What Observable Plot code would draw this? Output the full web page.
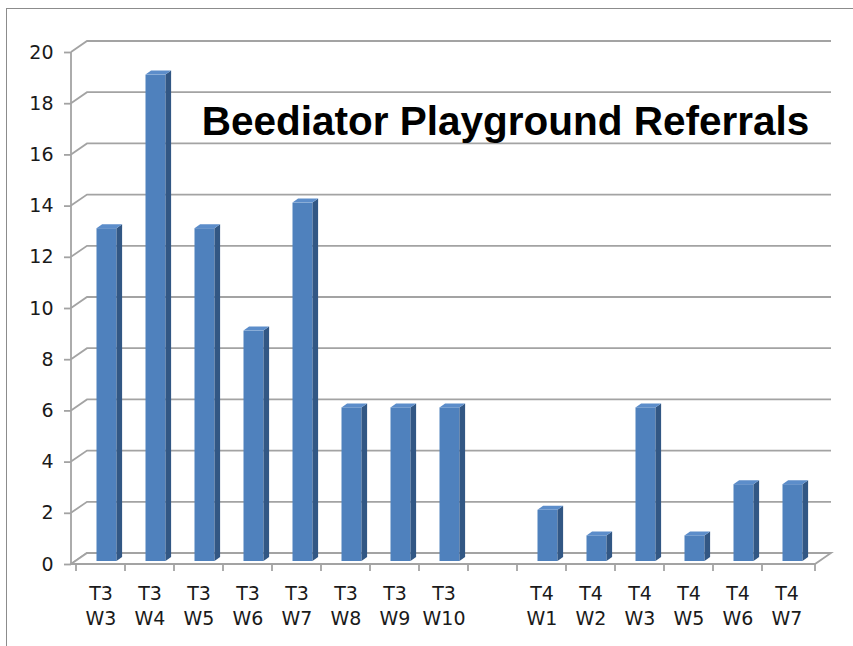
<!DOCTYPE html>
<html>
<head>
<meta charset="utf-8">
<script src="https://cdn.jsdelivr.net/npm/d3@7"></script>
<script src="https://cdn.jsdelivr.net/npm/@observablehq/plot@0.6"></script>
<style>
  body { margin: 0; background: #fff; }
  #wrap { position: relative; width: 853px; height: 646px; overflow: hidden; background: #fff; }
  #border { position: absolute; left: 6px; top: 8px; width: 900px; height: 700px;
            border-left: 1.6px solid #8c8c8c; border-top: 1.6px solid #8c8c8c; }
  #chart { position: absolute; left: 0; top: 0; }
</style>
</head>
<body>
<div id="wrap"><div id="border"></div><div id="chart"></div></div>
<script>
// ---- data ----
const categories = ["T3 W3","T3 W4","T3 W5","T3 W6","T3 W7","T3 W8","T3 W9","T3 W10","","T4 W1","T4 W2","T4 W3","T4 W5","T4 W6","T4 W7"];
const referrals  = [13, 19, 13, 9, 14, 6, 6, 6, null, 2, 1, 6, 1, 3, 3];
const yTicks     = [0, 2, 4, 6, 8, 10, 12, 14, 16, 18, 20];
const title      = "Beediator Playground Referrals";

// ---- styles ----
const wallDX = 16, wallDY = -11;     // 3D wall depth
const barDX = 6, barDY = -3;         // bar offset within depth
const sideDX = 5.6, sideDY = -4;     // bar depth
const faceW = 20;                    // bar front width
const gridColor = "#a3a3a3";
const frontColor = "#4f81bd", sideColor = "#325784", topColor = "#5c8dca";
const labelSize = 19;
const labelFont = "'DejaVu Sans', sans-serif";

const rows = categories.map((cat, i) => ({cat, value: referrals[i]})).filter(d => d.value != null);

// 3D walls, floor, front axis line, x boundary ticks
function walls(index, scales, values, dims) {
  const {x, y} = scales;
  const x0 = dims.marginLeft, x1 = dims.width - dims.marginRight;
  const g = d3.create("svg:g").attr("fill", "none").attr("stroke", gridColor).attr("stroke-width", 1.8);
  for (const t of yTicks) {
    const yy = y(t);
    g.append("path").attr("d", `M${x0},${yy}L${x0 + wallDX},${yy + wallDY}H${x1 + wallDX}`);
  }
  const y0 = y(0);
  g.append("path").attr("fill", "#fff").attr("d",
    `M${x0},${y0}H${x1}L${x1 + wallDX},${y0 + wallDY}H${x0 + wallDX}Z`);
  g.append("path").attr("d", `M${x0},${y0}V${y(yTicks[yTicks.length - 1])}`);
  const bounds = categories.map(c => x(c)).concat([x1]);
  for (const bx of bounds) g.append("path").attr("d", `M${bx},${y0}V${y0 + 7}`);
  return g.node();
}

// 3D bars (front face, side, top) drawn through the scales
function bars3d(index, scales, values, dims) {
  const {x, y} = scales;
  const bw = x.bandwidth ? x.bandwidth() : (x(categories[1]) - x(categories[0]));
  const g = d3.create("svg:g");
  for (const d of rows) {
    const left = x(d.cat) + bw / 2 - faceW / 2 + barDX;
    const right = left + faceW;
    const yb = y(0) + barDY, yt = y(d.value) + barDY;
    g.append("rect").attr("x", left).attr("y", yt).attr("width", faceW).attr("height", yb - yt)
      .attr("fill", frontColor);
    g.append("path").attr("fill", sideColor)
      .attr("d", `M${right},${yb}L${right + sideDX},${yb + sideDY}V${yt + sideDY}L${right},${yt}Z`);
    g.append("path").attr("fill", topColor)
      .attr("d", `M${left},${yt}L${left + sideDX},${yt + sideDY}H${right + sideDX}L${right},${yt}Z`);
  }
  return g.node();
}

const chart = Plot.plot({
  width: 853,
  height: 646,
  marginLeft: 71,
  marginRight: 38,
  marginTop: 52,
  marginBottom: 82,
  style: {fontFamily: labelFont, fontSize: labelSize + "px", color: "#1a1a1a", background: "transparent"},
  x: {type: "band", domain: categories, padding: 0, axis: null},
  y: {domain: [0, 20]},
  marks: [
    walls,
    Plot.axisY(yTicks, {tickSize: 7, tickPadding: 11, stroke: gridColor, strokeWidth: 1.8, label: null,
      fontSize: labelSize, fontFamily: labelFont}),
    bars3d,
    Plot.text(categories.filter(c => c), {
      x: d => d, frameAnchor: "bottom", text: d => d.replace(" ", "\n"),
      lineAnchor: "top", dy: 18, lineHeight: 1.32, fontSize: labelSize, fontFamily: labelFont, fill: "#1a1a1a"
    }),
    Plot.text([title], {
      frameAnchor: "top", text: d => d, dx: 62, dy: 70, lineAnchor: "middle",
      fontSize: 40.5, fontWeight: "bold", fontFamily: "'Liberation Sans', Arial, sans-serif", fill: "#000"
    })
  ]
});
document.getElementById("chart").appendChild(chart);
</script>
</body>
</html>
